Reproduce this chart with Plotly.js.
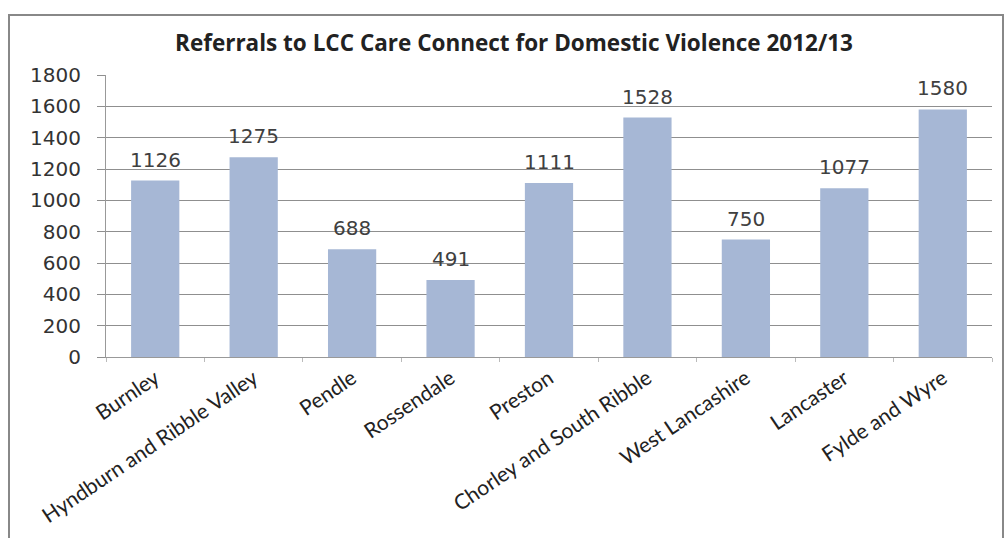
<!DOCTYPE html>
<html>
<head>
<meta charset="utf-8">
<script src="https://cdn.plot.ly/plotly-3.0.1.min.js"></script>
<style>
html,body{margin:0;padding:0;background:#fff;}
#chart{width:1005px;height:538px;}
</style>
</head>
<body>
<div id="chart"></div>
<script>
const categories = ["Burnley", "Hyndburn and Ribble Valley", "Pendle", "Rossendale", "Preston", "Chorley and South Ribble", "West Lancashire", "Lancaster", "Fylde and Wyre"];
const referrals = [1126, 1275, 688, 491, 1111, 1528, 750, 1077, 1580];
const yTicks = [0, 200, 400, 600, 800, 1000, 1200, 1400, 1600, 1800];
const chartTitle = "Referrals to LCC Care Connect for Domestic Violence 2012/13";

const W = 1005, H = 538;
const mL = 106, mR = 13, mT = 75, mB = 181;
const pw = W - mL - mR, ph = H - mT - mB;
const px = v => (v - mL) / pw;
const py = v => (H - mB - v) / ph;

const trace = {
  type: 'bar',
  x: categories,
  y: referrals,
  marker: {color: '#a6b7d5'},
  hoverinfo: 'x+y'
};

const labels = categories.map((c, i) => ({
  x: c, y: referrals[i], xref: 'x', yref: 'y',
  text: String(referrals[i]), showarrow: false,
  yanchor: 'bottom', yshift: 7,
  font: {family: 'DejaVu Sans', size: 20, color: '#404040'}
}));

const layout = {
  width: W, height: H,
  margin: {l: mL, r: mR, t: mT, b: mB, pad: 0},
  paper_bgcolor: '#fff', plot_bgcolor: '#fff',
  showlegend: false,
  bargap: 0.51,
  title: {
    text: '<b>' + chartTitle + '</b>',
    font: {family: 'Open Sans', size: 22.5, color: '#222'},
    xref: 'container', x: 514 / W, xanchor: 'center',
    yref: 'container', y: 1 - 43/H, yanchor: 'middle'
  },
  xaxis: {
    type: 'category',
    tickangle: -34,
    tickfont: {family: 'Lato', size: 21, color: '#222'},
    showline: true, linecolor: '#999', linewidth: 1,
    ticks: 'outside', tickson: 'boundaries', ticklen: 4, tickcolor: '#bbb',
    showgrid: false, zeroline: false, fixedrange: true
  },
  yaxis: {
    range: [0, 1800],
    tickvals: yTicks,
    ticktext: yTicks.map(String),
    tickfont: {family: 'DejaVu Sans', size: 20, color: '#333'},
    ticklabelstandoff: 12,
    showgrid: true, gridcolor: '#8f8f8f', gridwidth: 1,
    showline: true, linecolor: '#999', linewidth: 1,
    ticks: 'outside', ticklen: 8, tickcolor: '#8f8f8f',
    zeroline: false, fixedrange: true
  },
  annotations: labels,
  shapes: [{
    type: 'rect', xref: 'paper', yref: 'paper',
    x0: px(9), x1: px(1003), y0: py(560), y1: py(15),
    line: {color: '#888', width: 2}, fillcolor: 'rgba(0,0,0,0)', layer: 'below'
  }]
};

Plotly.newPlot('chart', [trace], layout, {displayModeBar: false, staticPlot: true});
</script>
</body>
</html>
